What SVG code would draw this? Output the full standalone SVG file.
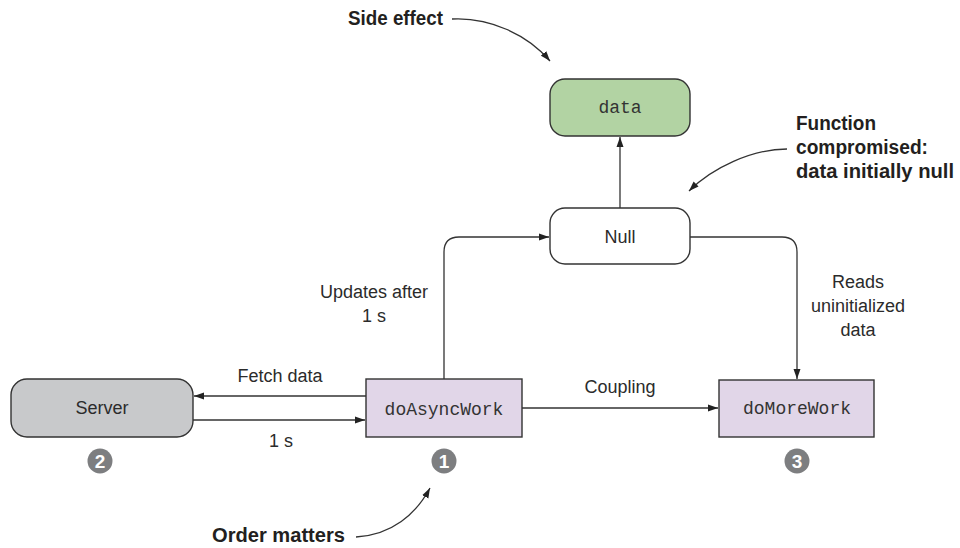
<svg xmlns="http://www.w3.org/2000/svg" width="960" height="548" viewBox="0 0 960 548">
  <style>
    .box { stroke: #333333; stroke-width: 1.4; }
    .conn { fill: none; stroke: #333333; stroke-width: 1.3; }
    .lbl { font-family: "Liberation Sans", Arial, sans-serif; font-size: 18px; fill: #2b2b2b; text-anchor: middle; }
    .mono { font-family: "Liberation Mono", "Courier New", monospace; font-size: 18px; fill: #333333; text-anchor: middle; }
    .note { font-family: "Liberation Sans Narrow", "Liberation Sans", sans-serif; font-weight: bold; font-size: 20px; fill: #231f20; }
    .badge { fill: #7d7e80; }
    .num { font-family: "Liberation Sans Narrow", "Liberation Sans", Arial, sans-serif; font-weight: bold; font-size: 19px; fill: #ffffff; text-anchor: middle; }
  </style>
  <defs>
    <marker id="arrow" markerUnits="userSpaceOnUse" markerWidth="10" markerHeight="8" refX="10" refY="4" orient="auto">
      <path d="M0,0.5 L10,4 L0,7.5 z" fill="#222222"/>
    </marker>
  </defs>

  <g id="connectors">
    <path class="conn" d="M620,208 V137" marker-end="url(#arrow)"/>
    <path class="conn" d="M444,379 V252 Q444,237 459,237 H549" marker-end="url(#arrow)"/>
    <path class="conn" d="M690,237 H782 Q797,237 797,252 V379" marker-end="url(#arrow)"/>
    <path class="conn" d="M366,396 H194" marker-end="url(#arrow)"/>
    <path class="conn" d="M193,420 H365" marker-end="url(#arrow)"/>
    <path class="conn" d="M522,408 H718" marker-end="url(#arrow)"/>
    <text class="lbl" x="280" y="382">Fetch data</text>
    <text class="lbl" x="281" y="447">1 s</text>
    <text class="lbl" x="620" y="393">Coupling</text>
    <text class="lbl" x="374" y="298">Updates after</text>
    <text class="lbl" x="374" y="322">1 s</text>
    <text class="lbl" x="858" y="288">Reads</text>
    <text class="lbl" x="858" y="312">uninitialized</text>
    <text class="lbl" x="858" y="336">data</text>
  </g>

  <g id="data">
    <rect class="box" x="550" y="79" width="140" height="57" rx="15" fill="#b2d3a3"/>
    <text class="mono" x="620" y="113">data</text>
  </g>
  <g id="null">
    <rect class="box" x="550" y="208" width="140" height="56" rx="15" fill="#ffffff"/>
    <text class="lbl" x="620" y="243">Null</text>
  </g>
  <g id="server">
    <rect class="box" x="11" y="379" width="182" height="58" rx="16" fill="#c8c9cb"/>
    <text class="lbl" x="102" y="414">Server</text>
  </g>
  <g id="doAsyncWork">
    <rect class="box" x="366" y="379" width="156" height="58" fill="#e1d6e8"/>
    <text class="mono" x="444" y="415">doAsyncWork</text>
  </g>
  <g id="doMoreWork">
    <rect class="box" x="719" y="380" width="155" height="57" fill="#e1d6e8"/>
    <text class="mono" x="797" y="414">doMoreWork</text>
  </g>

  <g id="badge-1">
    <circle class="badge" cx="444" cy="461" r="12.5"/>
    <text class="num" x="444" y="468">1</text>
  </g>
  <g id="badge-2">
    <circle class="badge" cx="100" cy="461" r="12.5"/>
    <text class="num" x="100" y="468">2</text>
  </g>
  <g id="badge-3">
    <circle class="badge" cx="797" cy="461" r="12.5"/>
    <text class="num" x="797" y="468">3</text>
  </g>

  <g id="note-side-effect">
    <text class="note" x="348" y="25" textLength="95" lengthAdjust="spacingAndGlyphs">Side effect</text>
    <path class="conn" d="M452,19 C490,17 528,35 550,61" marker-end="url(#arrow)"/>
  </g>
  <g id="note-function">
    <text class="note" x="796" y="130" textLength="80" lengthAdjust="spacingAndGlyphs">Function</text>
    <text class="note" x="796" y="154" textLength="132" lengthAdjust="spacingAndGlyphs">compromised:</text>
    <text class="note" x="796" y="178" textLength="158" lengthAdjust="spacingAndGlyphs">data initially null</text>
    <path class="conn" d="M787,149 C752,149 712,168 689,191" marker-end="url(#arrow)"/>
  </g>
  <g id="note-order">
    <text class="note" x="212" y="542" textLength="133" lengthAdjust="spacingAndGlyphs">Order matters</text>
    <path class="conn" d="M356,537 C392,535 416,514 430,488" marker-end="url(#arrow)"/>
  </g>
</svg>
